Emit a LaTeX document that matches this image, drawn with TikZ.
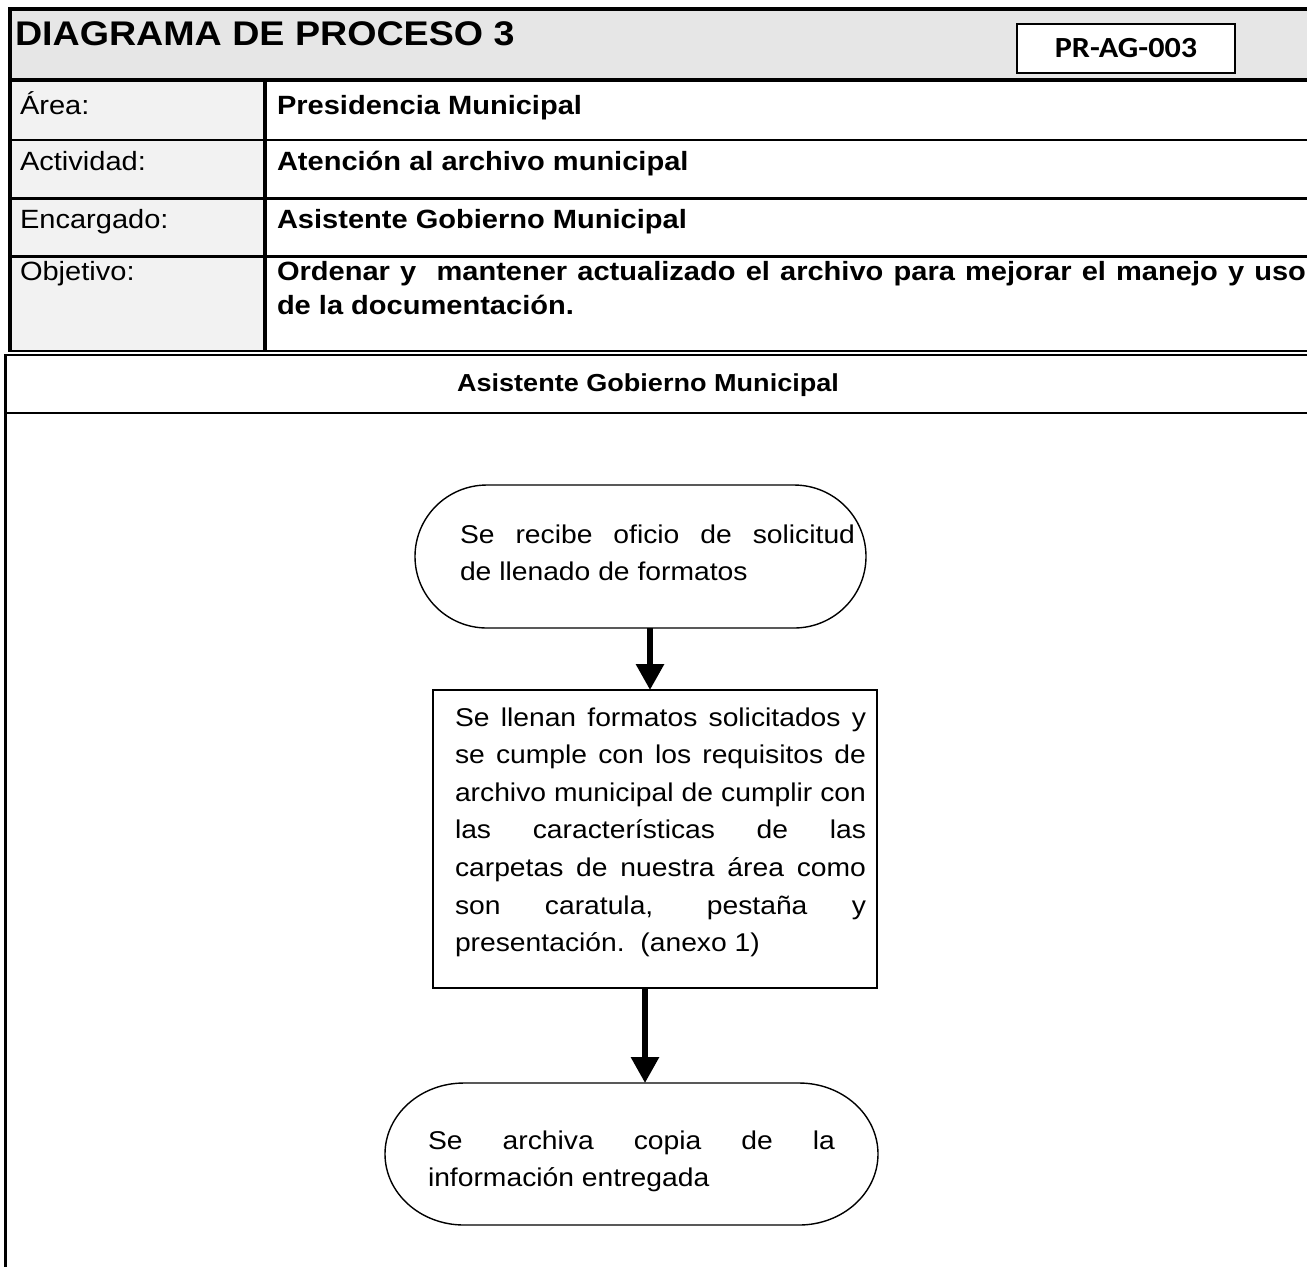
\documentclass[tikz,border=0pt]{standalone}
\usepackage{fontspec}
\setmainfont{Liberation Sans}[FakeStretch=1.1]
\newfontfamily\titlefont{Liberation Sans}[FakeStretch=1.1]
\newfontfamily\codefont{Carlito}[FakeStretch=1.1]
\usetikzlibrary{arrows.meta}

\definecolor{titlegray}{HTML}{E6E6E6}
\definecolor{labelgray}{HTML}{F2F2F2}

\newcommand\tabsize{\fontsize{13.2}{17}\selectfont}
\newcommand\flowsize{\fontsize{12.85}{18.8}\selectfont}
\newcommand\fullline[1]{\makebox[\linewidth][s]{#1}}

\begin{document}
\begin{tikzpicture}[x=0.5pt,y=-0.5pt,
  txt/.style={anchor=base west, inner sep=0pt, outer sep=0pt},
  lbl/.style={txt, font=\tabsize},
  val/.style={txt, font=\tabsize\bfseries},
  flowtxt/.style={txt, font=\flowsize},
  thickrule/.style={line width=1.75pt},
  rule/.style={line width=1.25pt},
  shapebox/.style={inner sep=0pt, outer sep=0pt, draw=none},
  procbox/.style={draw, line width=1.1pt, inner sep=0pt, outer sep=0pt},
  termline/.style={line width=0.7pt},
  flowarrow/.style={line width=3pt, -{Triangle[width=13.5pt,length=13pt]}},
]
\useasboundingbox (0,0) rectangle (1307,1266);
\clip (0,0) rectangle (1307,1266);
\fill[white] (0,0) rectangle (1307,1266);

% header table: cell fills
\fill[titlegray] (10,9) rectangle (1310,80);
\fill[labelgray] (10,80) rectangle (265,351);

% header table: rules
\draw[line width=2pt] (8,9) -- (1310,9);
\draw[line width=1.65pt] (10,80) -- (1310,80);
\draw[rule] (10,140) -- (1310,140);
\draw[rule] (10,198.5) -- (1310,198.5);
\draw[rule] (10,256.5) -- (1310,256.5);
\draw[line width=1pt] (8,351.3) -- (1310,351.3);
\draw[thickrule] (10,8) -- (10,352);
\draw[thickrule] (265,80) -- (265,351);

% swimlane frame
\draw[rule] (5.3,355) -- (1310,355);
\draw[line width=1.15pt] (5.3,413) -- (1310,413);
\draw[rule] (5.3,354.4) -- (5.3,1270);

% title and document code
\node[txt, font=\titlefont\fontsize{17.1}{20}\selectfont\bfseries] (title) at (15,45) {DIAGRAMA DE PROCESO 3};
\node[draw, fill=white, line width=1pt, minimum width=109pt, minimum height=24.5pt, inner sep=0pt] (codebox) at (1126,48.5) {};
\node[txt, anchor=base, font=\codefont\fontsize{14.6}{17}\selectfont\bfseries] (code) at (1126,57) {PR-AG-003};

% header table: labels and values
\node[lbl] (lArea) at (20,114) {Área:};
\node[lbl] (lAct) at (20,170) {Actividad:};
\node[lbl] (lEnc) at (20,228.5) {Encargado:};
\node[lbl] (lObj) at (20,280) {Objetivo:};
\node[val] (vArea) at (277,114) {Presidencia Municipal};
\node[val] (vAct) at (277,170) {Atención al archivo municipal};
\node[val] (vEnc) at (277,228.5) {Asistente Gobierno Municipal};
\node[val] (vObj) at (277,280) {\parbox[t]{514.5pt}{\fullline{Ordenar y\ \ mantener actualizado el archivo para mejorar el manejo y uso}\\de la documentación.}};

% swimlane heading
\node[txt, anchor=base, font=\fontsize{12.3}{14}\selectfont\bfseries] (lane) at (648,391) {Asistente Gobierno Municipal};

% flow shapes
\node[shapebox, minimum width=225.5pt, minimum height=71.5pt] (t1) at (640.5,556.5) {};
\draw[termline] ([xshift=36pt]t1.north west) -- ([xshift=-36pt]t1.north east)
  arc[start angle=90, end angle=-90, x radius=36pt, y radius=35.75pt]
  -- ([xshift=36pt]t1.south west)
  arc[start angle=270, end angle=90, x radius=36pt, y radius=35.75pt] -- cycle;

\node[procbox, minimum width=222pt, minimum height=149pt] (b2) at (655,839) {};

\node[shapebox, minimum width=246.5pt, minimum height=71pt] (t2) at (631.5,1154) {};
\draw[termline] ([xshift=39.5pt]t2.north west) -- ([xshift=-39.5pt]t2.north east)
  arc[start angle=90, end angle=-90, x radius=39.5pt, y radius=35.5pt]
  -- ([xshift=39.5pt]t2.south west)
  arc[start angle=270, end angle=90, x radius=39.5pt, y radius=35.5pt] -- cycle;

% flow texts
\node[flowtxt] (t1txt) at (460,543) {\parbox[t]{197.5pt}{\fullline{Se recibe oficio de solicitud}\\de llenado de formatos}};
\node[flowtxt] (b2txt) at (455,726) {\parbox[t]{205.5pt}{%
  \fullline{Se llenan formatos solicitados y}\\
  \fullline{se cumple con los requisitos de}\\
  \fullline{archivo municipal de cumplir con}\\
  \fullline{las características de las}\\
  \fullline{carpetas de nuestra área como}\\
  \fullline{son caratula, pestaña y}\\
  presentación.\ \ (anexo 1)}};
\node[flowtxt] (t2txt) at (428,1149) {\parbox[t]{203.5pt}{\fullline{Se archiva copia de la}\\información entregada}};

% connectors
\coordinate (ax1) at (650,0);
\coordinate (ax2) at (645,0);
\draw[flowarrow] (t1.south -| ax1) -- (b2.north -| ax1);
\draw[flowarrow] (b2.south -| ax2) -- (t2.north -| ax2);
\end{tikzpicture}
\end{document}
